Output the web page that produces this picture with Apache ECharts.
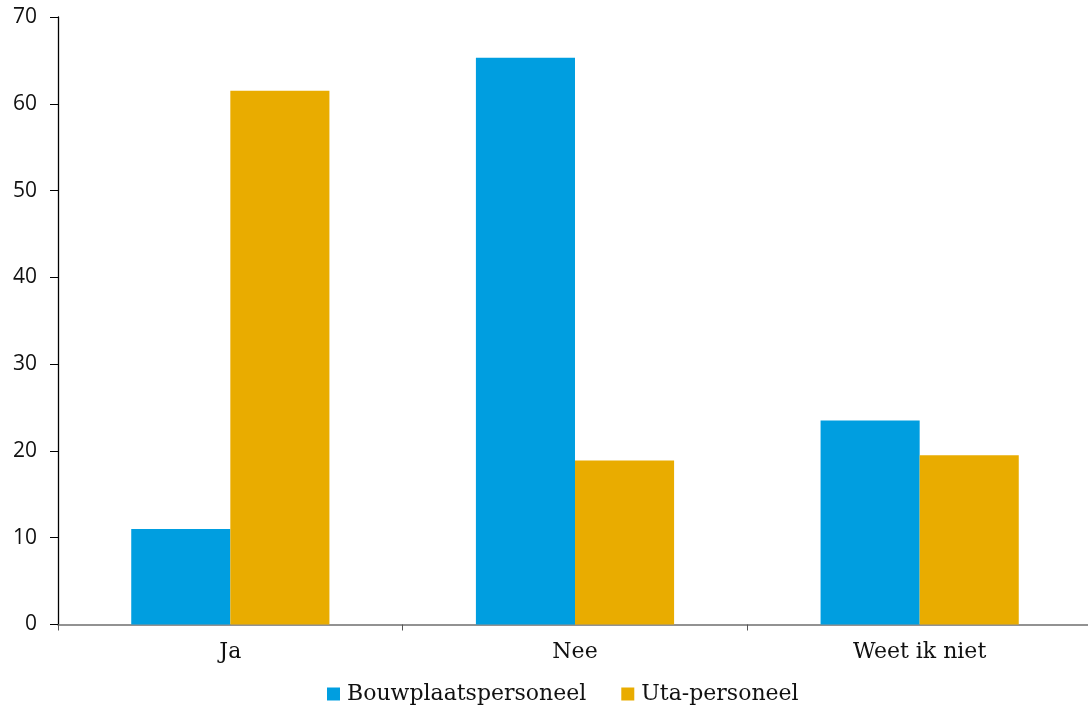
<!DOCTYPE html>
<html><head><meta charset="utf-8">
<script src="https://cdn.jsdelivr.net/npm/echarts@6/dist/echarts.min.js"></script>
<style>html,body{margin:0;padding:0;background:#fff;overflow:hidden}#c{width:1092px;height:709px}</style>
</head><body><div id="c"></div>
<script>
const categories = ['Ja', 'Nee', 'Weet ik niet'];
const bouwplaats = [11.0, 65.3, 23.5];
const uta = [61.5, 18.9, 19.5];
const seriesNames = ['Bouwplaatspersoneel', 'Uta-personeel'];
const serif = '"DejaVu Serif", serif';
const chart = echarts.init(document.getElementById('c'));
chart.setOption({
  animation: false,
  grid: { left: 58, right: 0, top: 17, bottom: 84.5, containLabel: false },
  legend: {
    top: 678, left: 322, itemWidth: 13, itemHeight: 13, itemGap: 35,
    icon: 'rect',
    textStyle: { fontFamily: serif, fontSize: 22, color: '#111', padding: [0, 0, 0, 2] },
    data: seriesNames
  },
  xAxis: {
    type: 'category', data: categories,
    axisLine: { lineStyle: { color: '#6f6f6f', width: 1.5 } },
    axisTick: { show: true, length: 6, lineStyle: { color: '#555' } },
    axisLabel: { fontFamily: serif, fontSize: 22, color: '#111', margin: 17 }
  },
  yAxis: {
    type: 'value', min: 0, max: 70, interval: 10,
    axisLine: { show: true, lineStyle: { color: '#000', width: 1.3 } },
    axisTick: { show: true, length: 8, lineStyle: { color: '#000' } },
    splitLine: { show: false },
    axisLabel: { fontFamily: '"Open Sans", sans-serif', fontSize: 21, color: '#111', margin: 21 }
  },
  series: [
    { name: seriesNames[0], type: 'bar', data: bouwplaats, itemStyle: { color: '#009EE0' }, barGap: '0%', barCategoryGap: '42.5%' },
    { name: seriesNames[1], type: 'bar', data: uta, itemStyle: { color: '#E9AC00' }, barGap: '0%', barCategoryGap: '42.5%' }
  ]
});
</script></body></html>
